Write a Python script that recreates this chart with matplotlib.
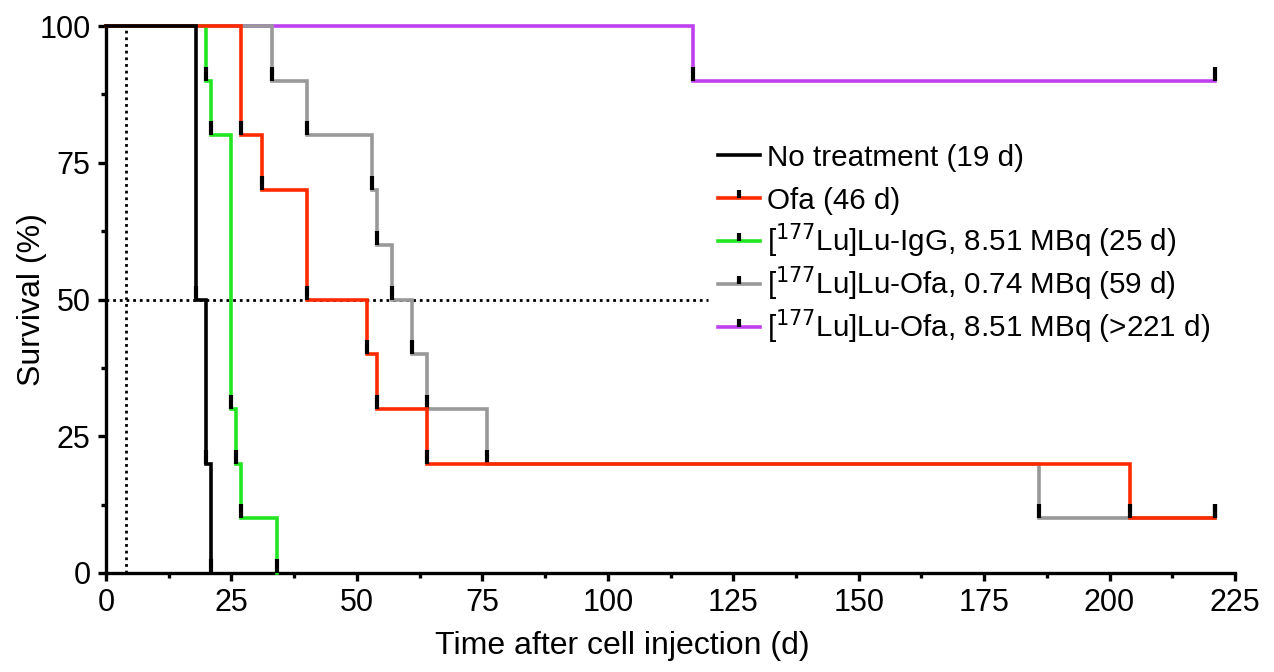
import numpy as np
import matplotlib
matplotlib.use('Agg')
import matplotlib.pyplot as plt
from matplotlib.path import Path
from matplotlib.lines import Line2D
from matplotlib.ticker import MultipleLocator

plt.rcParams['font.family'] = ['Liberation Sans', 'DejaVu Sans']

# Kaplan-Meier steps (time in days, survival in %)
no_treat_t = [0, 18, 20, 21]
no_treat_s = [100, 50, 20, 0]

ofa_t = [0, 27, 31, 40, 52, 54, 64, 204, 221]
ofa_s = [100, 80, 70, 50, 40, 30, 20, 10, 10]

igg_t = [0, 20, 21, 25, 26, 27, 34]
igg_s = [100, 90, 80, 30, 20, 10, 0]

lu_ofa_low_t = [0, 33, 40, 53, 54, 57, 61, 64, 76, 186, 221]
lu_ofa_low_s = [100, 90, 80, 70, 60, 50, 40, 30, 20, 10, 10]

lu_ofa_high_t = [0, 117, 221]
lu_ofa_high_s = [100, 90, 90]

labels = ['No treatment (19 d)',
          'Ofa (46 d)',
          '[$^{177}$Lu]Lu-IgG, 8.51 MBq (25 d)',
          '[$^{177}$Lu]Lu-Ofa, 0.74 MBq (59 d)',
          '[$^{177}$Lu]Lu-Ofa, 8.51 MBq (>221 d)']
colors = ['black', '#FF2A00', '#22E622', '#999999', '#BF40EF']

treat_day = 4
median_level = 50
median_line_end = 120

W, H = 1274, 672

# small upward tick used as the event / censor mark
tick_mark = Path([(0, 0), (0, 1)], [Path.MOVETO, Path.LINETO])

fig = plt.figure(figsize=(W / 100, H / 100), dpi=100)
ax = fig.add_axes([106/W, 99/H, 1129/W, 547/H])

# reference lines
dots = (0, (1, 1.4))
ax.plot([treat_day, treat_day], [0, 100], color='black', lw=2.0,
        linestyle=dots, zorder=1)
ax.plot([0, median_line_end], [median_level, median_level], color='black',
        lw=2.0, linestyle=dots, zorder=1)

curves = [(no_treat_t, no_treat_s), (ofa_t, ofa_s), (igg_t, igg_s),
          (lu_ofa_low_t, lu_ofa_low_s), (lu_ofa_high_t, lu_ofa_high_s)]
# drawing order bottom -> top
zorders = [6, 5, 4, 3, 2]

for (t, s), c, z in zip(curves, colors, zorders):
    ax.step(t, s, where='post', color=c, lw=2.6, zorder=z, clip_on=False,
            solid_joinstyle='miter')
    ax.plot(t[1:], s[1:], linestyle='none', marker=tick_mark, markersize=20,
            markeredgewidth=3.0, color='black', zorder=z + 0.5, clip_on=False)

ax.set_xlim(0, 225)
ax.set_ylim(0, 100)
ax.xaxis.set_major_locator(MultipleLocator(25))
ax.xaxis.set_minor_locator(MultipleLocator(12.5))
ax.yaxis.set_major_locator(MultipleLocator(25))
ax.yaxis.set_minor_locator(MultipleLocator(12.5))

for side in ['top', 'right']:
    ax.spines[side].set_visible(False)
for side in ['left', 'bottom']:
    ax.spines[side].set_linewidth(2.4)

ax.tick_params(which='major', length=6, width=2.4, labelsize=22, pad=5)
ax.tick_params(which='minor', length=3.8, width=2.4)

ax.set_ylabel('Survival (%)', fontsize=23)
ax.yaxis.set_label_coords(-0.052, 0.5)
ax.set_xlabel('Time after cell injection (d)', fontsize=23)
ax.xaxis.set_label_coords(0.457, -0.106)

# legend drawn by hand so every row gets the same spacing
row_y = 155
for i, (lab, c) in enumerate(zip(labels, colors)):
    y = 1 - row_y / H
    fig.add_artist(Line2D([718/W, 760/W], [y, y], color=c, lw=2.6,
                          transform=fig.transFigure))
    if i > 0:
        fig.add_artist(Line2D([739/W], [y], linestyle='none',
                              marker=tick_mark, markersize=12,
                              markeredgewidth=3.0, color='black',
                              transform=fig.transFigure))
    fig.text(767/W, 1 - (row_y + 10.5) / H, lab, fontsize=21.3,
             va='baseline', ha='left')
    row_y += 43

fig.savefig('out.png', dpi=100)
